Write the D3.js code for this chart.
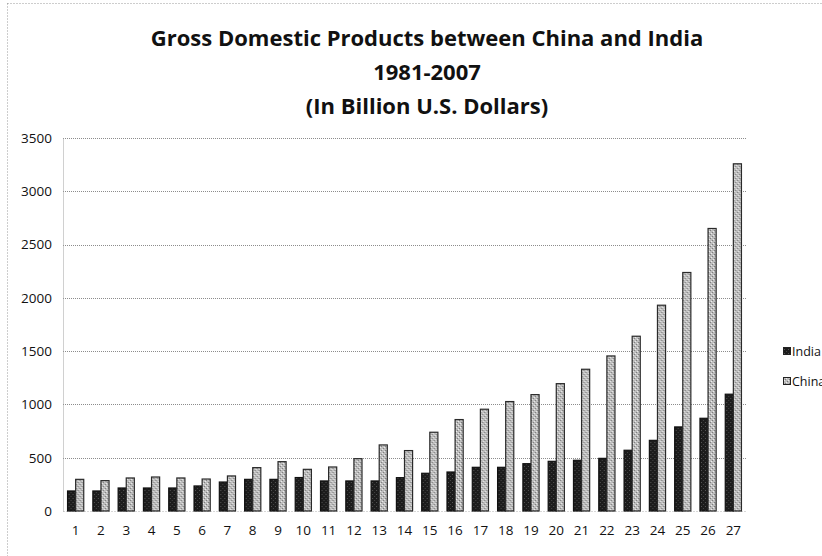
<!DOCTYPE html>
<html>
<head>
<meta charset="utf-8">
<script src="https://cdn.jsdelivr.net/npm/d3@7"></script>
<style>
  html, body { margin: 0; padding: 0; background: #fff; }
  svg { display: block; }
  text { font-family: "Open Sans", "DejaVu Sans", sans-serif; fill: #111; }
</style>
</head>
<body>
<svg id="chart" width="822" height="556"></svg>
<script>
// GDP, billions of U.S. dollars, 1981 (1) through 2007 (27)
const categories = d3.range(1, 28).map(String);
const india = [188, 188, 216, 216, 216, 235, 272, 297, 297, 314, 282, 282, 282, 313, 354,
               366, 410, 410, 444, 466, 476, 494, 570, 663, 789, 870, 1096];
const china = [297, 285, 310, 319, 310, 300, 329, 407, 463, 391, 413, 491, 620, 567, 739,
               858, 955, 1027, 1092, 1195, 1330, 1455, 1640, 1931, 2238, 2651, 3258];
const yTicks = [0, 500, 1000, 1500, 2000, 2500, 3000, 3500];
const seriesNames = ["India", "China"];
const titleLines = ["Gross Domestic Products between China and India", "1981-2007", "(In Billion U.S. Dollars)"];

const svg = d3.select("#chart");
const margin = { left: 63, right: 76, top: 138, bottom: 45 };
const W = 822, H = 556;

// stippled fills for the two series
const defs = svg.append("defs");
const pIndia = defs.append("pattern").attr("id", "pIndia").attr("patternUnits", "userSpaceOnUse")
  .attr("width", 4).attr("height", 4);
pIndia.append("rect").attr("width", 4).attr("height", 4).attr("fill", "#1c1c1c");
pIndia.append("rect").attr("x", 1).attr("y", 2).attr("width", 1).attr("height", 1).attr("fill", "#555");
pIndia.append("rect").attr("x", 3).attr("y", 0).attr("width", 1).attr("height", 1).attr("fill", "#444");

const pChina = defs.append("pattern").attr("id", "pChina").attr("patternUnits", "userSpaceOnUse")
  .attr("width", 4).attr("height", 4);
pChina.append("rect").attr("width", 4).attr("height", 4).attr("fill", "#bdbdbd");
pChina.append("rect").attr("x", 0).attr("y", 0).attr("width", 1).attr("height", 1).attr("fill", "#7a7a7a");
pChina.append("rect").attr("x", 2).attr("y", 2).attr("width", 1).attr("height", 1).attr("fill", "#7a7a7a");
pChina.append("rect").attr("x", 3).attr("y", 1).attr("width", 1).attr("height", 1).attr("fill", "#eeeeee");
pChina.append("rect").attr("x", 1).attr("y", 3).attr("width", 1).attr("height", 1).attr("fill", "#eeeeee");

// outer chart border
svg.append("rect")
  .attr("x", 7.5).attr("y", 3.5).attr("width", W + 20).attr("height", H + 20)
  .attr("fill", "none").attr("stroke", "#9a9a9a").attr("stroke-width", 1)
  .attr("stroke-dasharray", "1,2");

// title
const title = svg.append("g").attr("class", "title");
const titleY = [46, 80, 114];
titleLines.forEach((t, i) => {
  title.append("text")
    .attr("x", 427).attr("y", titleY[i])
    .attr("text-anchor", "middle")
    .attr("font-size", 22).attr("font-weight", "bold")
    .attr("fill", "#111")
    .text(t);
});

const x = d3.scaleBand().domain(categories).range([margin.left, W - margin.right]).paddingInner(0.36).paddingOuter(0.18);
const x1 = d3.scaleBand().domain(seriesNames).range([0, x.bandwidth()]);
const y = d3.scaleLinear().domain([0, 3500]).range([H - margin.bottom, margin.top]);

// gridlines
svg.append("g")
  .selectAll("line").data(yTicks.filter(d => d > 0)).join("line")
  .attr("x1", margin.left).attr("x2", W - margin.right)
  .attr("y1", d => Math.round(y(d)) + 0.5).attr("y2", d => Math.round(y(d)) + 0.5)
  .attr("stroke", "#8c8c8c").attr("stroke-width", 1).attr("stroke-dasharray", "1,1");

// y axis
const yAxis = svg.append("g")
  .attr("transform", `translate(${margin.left},0)`)
  .call(d3.axisLeft(y).tickValues(yTicks).tickSize(0).tickPadding(11).tickFormat(d3.format("d")));
yAxis.select(".domain").attr("stroke", "#a0a0a0").attr("stroke-dasharray", "1,1");
yAxis.selectAll("text").attr("font-size", 13.5).attr("font-family", "'Open Sans', sans-serif").attr("fill", "#111");

// x axis
const xAxis = svg.append("g")
  .attr("transform", `translate(0,${H - margin.bottom})`)
  .call(d3.axisBottom(x).tickSize(0).tickPadding(14));
xAxis.select(".domain").attr("stroke", "#b0b0b0").attr("stroke-dasharray", "1,2");
xAxis.selectAll("text").attr("font-size", 13.5).attr("font-family", "'Open Sans', sans-serif").attr("fill", "#111");

// bars
const rows = categories.map((c, i) => ({ c, India: india[i], China: china[i] }));
const groups = svg.append("g").selectAll("g").data(rows).join("g")
  .attr("transform", d => `translate(${x(d.c)},0)`);
groups.selectAll("rect").data(d => seriesNames.map(k => ({ k, v: d[k] }))).join("rect")
  .attr("x", d => x1(d.k))
  .attr("y", d => y(d.v))
  .attr("width", x1.bandwidth())
  .attr("height", d => y(0) - y(d.v))
  .attr("fill", d => d.k === "India" ? "url(#pIndia)" : "url(#pChina)")
  .attr("stroke", d => d.k === "India" ? "#111" : "#2a2a2a")
  .attr("stroke-width", 1.2);

// legend
const legend = svg.append("g").attr("transform", "translate(783,347)");
seriesNames.forEach((k, i) => {
  const g = legend.append("g").attr("transform", `translate(0,${i * 30})`);
  g.append("rect").attr("x", 0.5).attr("y", 0.5).attr("width", 7).attr("height", 7)
    .attr("fill", k === "India" ? "url(#pIndia)" : "url(#pChina)")
    .attr("stroke", "#222");
  g.append("text").attr("x", 9).attr("y", 8.5).attr("font-size", 12.5).text(k);
});
</script>
</body>
</html>
